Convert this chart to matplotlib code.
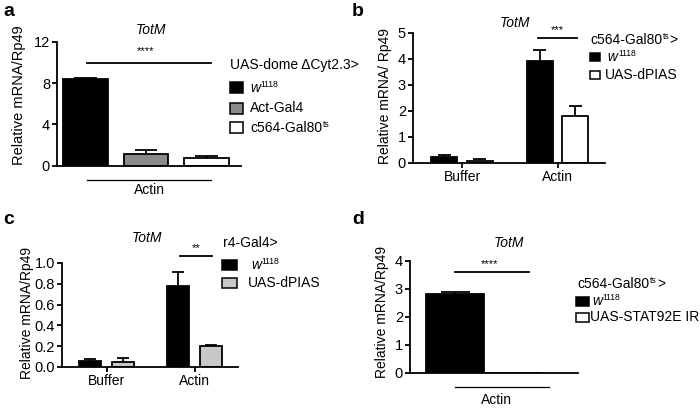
import matplotlib
matplotlib.use("Agg")
import matplotlib.pyplot as plt
from matplotlib.patches import Rectangle
import numpy as np

plt.rcParams['font.family'] = ['Liberation Sans', 'DejaVu Sans']

# ---------------- data ----------------
# panel a
a_labels = [[('w', 'i'), ('1118', 's')], [('Act-Gal4', 'n')], [('c564-Gal80', 'n'), ('ts', 's')]]
a_values = [8.35, 1.1, 0.75]
a_errors = [0.1, 0.45, 0.15]
a_yticks = [0, 4, 8, 12]
a_colors = ['black', '#8a8a8a', 'white']

# panel b
b_groups = ['Buffer', 'Actin']
b_series = [[(' w', 'i'), ('1118', 's')], [('UAS-dPIAS', 'n')]]
b_values = [[0.2, 3.9], [0.08, 1.8]]
b_errors = [[0.1, 0.45], [0.05, 0.38]]
b_yticks = [0, 1, 2, 3, 4, 5]
b_colors = ['black', 'white']

# panel c
c_groups = ['Buffer', 'Actin']
c_series = [[('w', 'i'), ('1118', 's')], [('UAS-dPIAS', 'n')]]
c_values = [[0.06, 0.78], [0.05, 0.2]]
c_errors = [[0.02, 0.13], [0.04, 0.01]]
c_yticks = [0.0, 0.2, 0.4, 0.6, 0.8, 1.0]
c_colors = ['black', '#c8c8c8']

# panel d
d_series = [[('w', 'i'), ('1118', 's')], [('UAS-STAT92E IR', 'n')]]
d_values = [2.83, 0.0]
d_errors = [0.08, 0.0]
d_yticks = [0, 1, 2, 3, 4]
d_colors = ['black', 'white']

W, H = 700, 408
fig = plt.figure(figsize=(W / 100, H / 100), dpi=100)
renderer = fig.canvas.get_renderer()

FS = 10
TFS = 10.5
LW = 1.3


def add_ax(x0, x1, ytop, ybot):
    return fig.add_axes([x0 / W, 1 - ybot / H, (x1 - x0) / W, (ybot - ytop) / H])


def style(ax):
    for s in ['top', 'right']:
        ax.spines[s].set_visible(False)
    for s in ['left', 'bottom']:
        ax.spines[s].set_linewidth(LW)
    ax.tick_params(axis='both', width=LW, length=3.5, labelsize=TFS, pad=1.5)


def ftext(x, y, s, **kw):
    return fig.text(x / W, 1 - y / H, s, **kw)


def rich(x, y, parts, fs=FS):
    """draw text pieces in sequence; 's' pieces are small superscripts"""
    cx = x
    for s, kind in parts:
        if kind == 's':
            t = ftext(cx + 0.5, y - 3.2, s, fontsize=fs * 0.62, va='center', ha='left')
        else:
            t = ftext(cx, y, s, fontsize=fs, va='center', ha='left',
                      style='italic' if kind == 'i' else 'normal')
        bb = t.get_window_extent(renderer)
        cx = bb.x1 + (0.5 if kind == 's' else 0)


def fpatch(x, y, w, h, color):
    fig.add_artist(Rectangle((x / W, 1 - (y + h) / H), w / W, h / H,
                             facecolor=color, edgecolor='black', linewidth=1.1,
                             transform=fig.transFigure))


def ylab(x, y, s, fs=FS):
    ftext(x, y, s, fontsize=fs, rotation=90, ha='center', va='center')


def errbar(ax, x, v, e, capw):
    if e > 0:
        ax.plot([x, x], [v, v + e], color='black', lw=LW, solid_capstyle='butt', zorder=1)
        ax.plot([x - capw / 2, x + capw / 2], [v + e, v + e], color='black', lw=LW,
                solid_capstyle='butt', zorder=1)


# ---------------- panel a ----------------
ax = add_ax(57, 241, 41.7, 165.7)
style(ax)
xa = np.arange(len(a_values))
wa = 0.74
for x, v, e, c in zip(xa, a_values, a_errors, a_colors):
    errbar(ax, x, v, e, wa * 0.5)
    ax.bar(x, v, width=wa, color=c, edgecolor='black', linewidth=LW, zorder=2)
ax.set_xlim(-0.47, 2.57)
ax.set_ylim(0, 12)
ax.set_yticks(a_yticks)
ax.set_xticks([])
ylab(19, 95, 'Relative mRNA/Rp49', fs=10.5)
ax.plot([0.02, 2.07], [9.95, 9.95], color='black', lw=LW, clip_on=False)
ax.text(1.0, 10.6, '****', ha='center', va='bottom', fontsize=8)
ax.text(1.08, 1.04, 'TotM', transform=ax.get_xaxis_transform(), ha='center', va='bottom',
        fontsize=FS, style='italic')
tr = ax.get_xaxis_transform()
ax.plot([0.02, 2.07], [-0.115, -0.115], transform=tr, color='black', lw=0.9, clip_on=False)
ax.text(1.05, -0.2, 'Actin', transform=tr, ha='center', va='center', fontsize=FS)
# legend a
ftext(230, 65, 'UAS-dome \u0394Cyt2.3>', fontsize=FS, va='center', ha='left')
for i, (lab, c) in enumerate(zip(a_labels, a_colors)):
    y = [87.5, 108.5, 127.5][i]
    fpatch(230, y - 5, 13, 10, c)
    rich(250, y, lab)

# ---------------- panel b ----------------
ax = add_ax(413, 605, 32.7, 162.7)
style(ax)
gx = np.arange(len(b_groups))
off, wb = 0.186, 0.27
for k in range(2):
    for g in range(2):
        x = gx[g] + (2 * k - 1) * off
        errbar(ax, x, b_values[k][g], b_errors[k][g], wb * 0.5)
        ax.bar(x, b_values[k][g], width=wb, color=b_colors[k], edgecolor='black',
               linewidth=LW, zorder=2)
ax.set_xlim(-0.513, 1.497)
ax.set_ylim(0, 5)
ax.set_yticks(b_yticks)
ax.set_xticks(gx)
ax.set_xticklabels(b_groups, fontsize=FS)
ylab(385, 96, 'Relative mRNA/ Rp49')
ax.plot([1 - 0.2, 1 + 0.2], [4.8, 4.8], color='black', lw=LW, clip_on=False)
ax.text(1.0, 4.92, '***', ha='center', va='bottom', fontsize=8)
ax.text(0.53, 1.02, 'TotM', transform=ax.transAxes, ha='center', va='bottom',
        fontsize=FS, style='italic')
rich(590, 40, [('c564-Gal80', 'n'), ('ts', 's'), ('>', 'n')])
for i, (lab, c) in enumerate(zip(b_series, b_colors)):
    y = [57, 75][i]
    fpatch(590, y - 4, 10, 8, c)
    rich([604, 605][i], y, lab)

# ---------------- panel c ----------------
ax = add_ax(62, 238, 263, 367)
style(ax)
gx = np.arange(len(c_groups))
off, wc = 0.1875, 0.26
for k in range(2):
    for g in range(2):
        x = gx[g] + (2 * k - 1) * off
        errbar(ax, x, c_values[k][g], c_errors[k][g], wc * 0.5)
        ax.bar(x, c_values[k][g], width=wc, color=c_colors[k], edgecolor='black',
               linewidth=LW, zorder=2)
ax.set_xlim(-0.506, 1.494)
ax.set_ylim(0, 1.0)
ax.set_yticks(c_yticks)
ax.set_yticklabels([f'{t:.1f}' for t in c_yticks])
ax.set_xticks(gx)
ax.set_xticklabels(c_groups, fontsize=FS)
ylab(27, 313, 'Relative mRNA/Rp49')
ax.plot([1 - 0.16, 1 + 0.2], [1.07, 1.07], color='black', lw=LW, clip_on=False)
ax.text(1.02, 1.1, '**', ha='center', va='bottom', fontsize=8)
ax.text(0.48, 1.17, 'TotM', transform=ax.transAxes, ha='center', va='bottom',
        fontsize=FS, style='italic')
ftext(223, 243, 'r4-Gal4>', fontsize=FS, va='center', ha='left')
for i, (lab, c) in enumerate(zip(c_series, c_colors)):
    y = [265, 283][i]
    fpatch(222, y - 5, 15, 10, c)
    rich([251, 248][i], y, lab)

# ---------------- panel d ----------------
ax = add_ax(410, 578, 261, 373)
style(ax)
xd = np.arange(len(d_values))
wd = 1.0
for x, v, e, c in zip(xd, d_values, d_errors, d_colors):
    errbar(ax, x, v, e, wd * 0.5)
    ax.bar(x, v, width=wd, color=c, edgecolor='black', linewidth=LW, zorder=2)
ax.set_xlim(-0.78, 2.12)
ax.set_ylim(0, 4)
ax.set_yticks(d_yticks)
ax.set_xticks([])
ylab(382, 312, 'Relative mRNA/Rp49')
ax.plot([0.0, 1.27], [3.6, 3.6], color='black', lw=LW, clip_on=False)
ax.text(0.6, 3.72, '****', ha='center', va='bottom', fontsize=8)
ax.text(0.59, 1.1, 'TotM', transform=ax.transAxes, ha='center', va='bottom',
        fontsize=FS, style='italic')
tr = ax.get_xaxis_transform()
ax.plot([0.0, 1.62], [-0.125, -0.125], transform=tr, color='black', lw=0.9, clip_on=False)
ax.text(0.71, -0.24, 'Actin', transform=tr, ha='center', va='center', fontsize=FS)
rich(577, 284, [('c564-Gal80', 'n'), ('ts', 's'), ('>', 'n')])
for i, (lab, c) in enumerate(zip(d_series, d_colors)):
    y = [301, 317][i]
    fpatch(576, y - 4.5, 13, 9, c)
    rich([592, 590][i], y, lab)

# panel letters
for (x, y, s) in [(3, 11, 'a'), (352, 11, 'b'), (3, 220, 'c'), (352, 220, 'd')]:
    ftext(x, y, s, fontsize=14, fontweight='bold', va='center', ha='left')

fig.savefig('out.png', dpi=100)
